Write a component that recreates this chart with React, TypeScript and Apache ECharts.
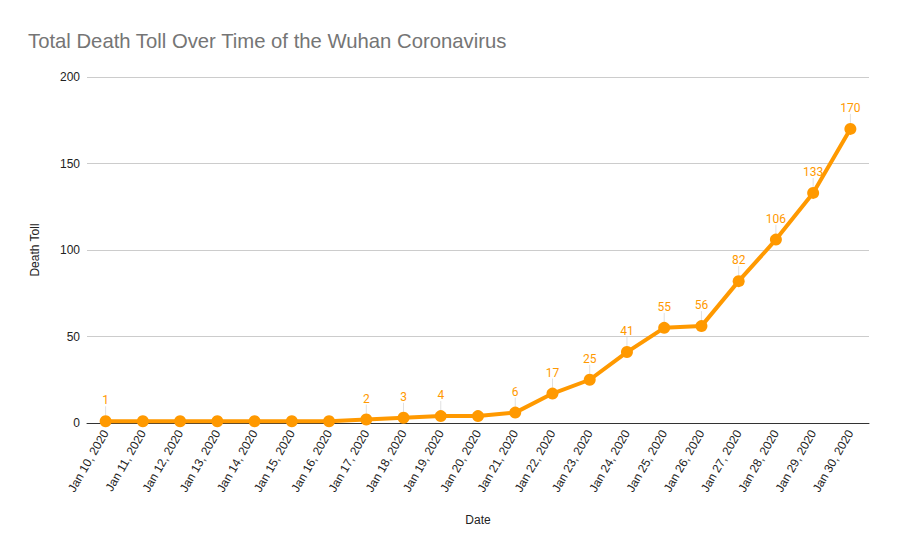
import * as echarts from "echarts";
import { useEffect, useRef } from "react";

const dates = [
  "Jan 10, 2020", "Jan 11, 2020", "Jan 12, 2020", "Jan 13, 2020", "Jan 14, 2020",
  "Jan 15, 2020", "Jan 16, 2020", "Jan 17, 2020", "Jan 18, 2020", "Jan 19, 2020",
  "Jan 20, 2020", "Jan 21, 2020", "Jan 22, 2020", "Jan 23, 2020", "Jan 24, 2020",
  "Jan 25, 2020", "Jan 26, 2020", "Jan 27, 2020", "Jan 28, 2020", "Jan 29, 2020",
  "Jan 30, 2020",
];
const deaths = [1, 1, 1, 1, 1, 1, 1, 2, 3, 4, 4, 6, 17, 25, 41, 55, 56, 82, 106, 133, 170];

const ORANGE = "#ff9900";

export default function App() {
  const chartRef = useRef<HTMLDivElement>(null);

  useEffect(() => {
    if (!chartRef.current) return;
    const chart = echarts.init(chartRef.current, null, { renderer: "svg" });

    // only label a point where the toll changed
    const seriesData = deaths.map((v, i) => ({
      value: v,
      label: { show: i === 0 || v !== deaths[i - 1] },
      labelLine: { show: i === 0 || v !== deaths[i - 1] },
    }));

    chart.setOption({
      animation: false,
      title: {
        text: "Total Death Toll Over Time of the Wuhan Coronavirus",
        left: 15,
        top: 18,
        textStyle: {
          fontFamily: "Liberation Sans, Arial, sans-serif",
          fontSize: 20.3,
          fontWeight: "normal",
          color: "#757575",
        },
      },
      grid: { left: 79, right: 20, top: 69, bottom: 123 },
      xAxis: {
        type: "category",
        data: dates,
        boundaryGap: true,
        name: "Date",
        nameLocation: "middle",
        nameGap: 91,
        nameTextStyle: { fontFamily: "Liberation Sans, Arial, sans-serif", fontSize: 12, color: "#222" },
        axisLine: { lineStyle: { color: "#333", width: 1 } },
        axisTick: { show: false },
        axisLabel: {
          rotate: 60,
          interval: 0,
          margin: 8,
          fontFamily: "Liberation Sans, Arial, sans-serif",
          fontSize: 12,
          color: "#222",
        },
      },
      yAxis: {
        type: "value",
        min: 0,
        max: 200,
        interval: 50,
        name: "Death Toll",
        nameLocation: "middle",
        nameGap: 46,
        nameRotate: 90,
        nameTextStyle: { fontFamily: "Liberation Sans, Arial, sans-serif", fontSize: 12, color: "#222" },
        axisLine: { show: false },
        axisTick: { show: false },
        axisLabel: {
          margin: 7,
          fontFamily: "Liberation Sans, Arial, sans-serif",
          fontSize: 12,
          color: "#222",
        },
        splitLine: { lineStyle: { color: "#cccccc", width: 1 } },
      },
      series: [
        {
          type: "line",
          data: seriesData,
          symbol: "circle",
          symbolSize: 12,
          lineStyle: { color: ORANGE, width: 4 },
          itemStyle: { color: ORANGE },
          label: {
            position: "top",
            distance: 4,
            color: ORANGE,
            fontFamily: "Roboto, sans-serif",
            fontSize: 12,
          },
          labelLayout: { dy: -5 },
          labelLine: { lineStyle: { color: "#e0e0e0", width: 1 } },
        },
      ],
    });

    return () => chart.dispose();
  }, []);

  return <div ref={chartRef} style={{ width: 881, height: 538 }} />;
}
